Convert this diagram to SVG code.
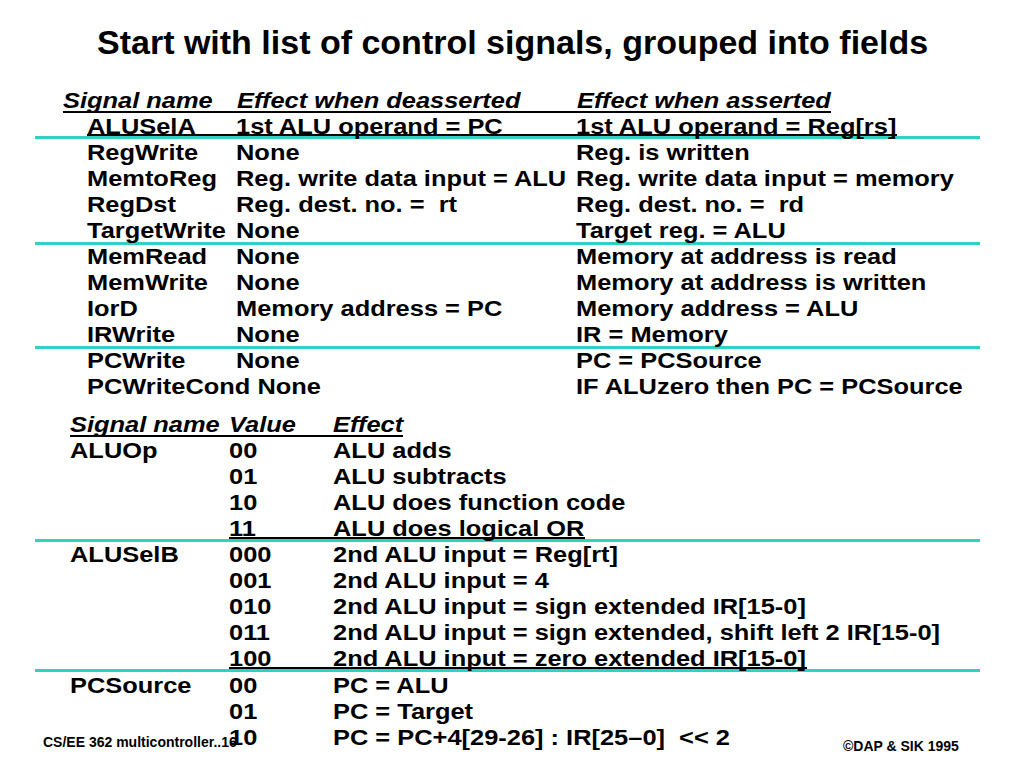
<svg xmlns="http://www.w3.org/2000/svg" width="1024" height="768" viewBox="0 0 1024 768">
<style>
text{font-family:"Liberation Sans",Arial,Helvetica,sans-serif;font-weight:bold;fill:#000}
.t{font-size:34px}
.b{font-size:22.5px}
.h{font-size:22.5px;font-style:italic}
.f{font-size:14px}
.teal{stroke:#2fd2c0;stroke-width:3}
.ul{stroke:#000;stroke-width:2}
</style>
<rect width="1024" height="768" fill="#fff"/>
<text id="title" class="t" x="97" y="54">Start with list of control signals, grouped into fields</text>

<g id="rules">
<line class="ul" x1="63" y1="112" x2="831" y2="112"/>
<line class="ul" x1="87" y1="135" x2="897" y2="135"/>
<line class="teal" x1="35" y1="137.5" x2="980" y2="137.5"/>
<line class="teal" x1="35" y1="243.5" x2="980" y2="243.5"/>
<line class="teal" x1="35" y1="347.5" x2="980" y2="347.5"/>
<line class="ul" x1="70" y1="436" x2="403" y2="436"/>
<line class="ul" x1="229" y1="538" x2="585" y2="538"/>
<line class="teal" x1="35" y1="540.5" x2="980" y2="540.5"/>
<line class="ul" x1="229" y1="668" x2="807" y2="668"/>
<line class="teal" x1="35" y1="670.5" x2="980" y2="670.5"/>
</g>

<g id="table1">
<g id="t1-header">
<text class="h" transform="translate(63 108) scale(1.13 1)">Signal name</text>
<text class="h" transform="translate(237 108) scale(1.13 1)">Effect when deasserted</text>
<text class="h" transform="translate(577 108) scale(1.13 1)">Effect when asserted</text>
</g>
<g id="r-ALUSelA">
<text class="b" transform="translate(87 134) scale(1.13 1)">ALUSelA</text>
<text class="b" transform="translate(236 134) scale(1.13 1)">1st ALU operand = PC</text>
<text class="b" transform="translate(576 134) scale(1.13 1)">1st ALU operand = Reg[rs]</text>
</g>
<g id="r-RegWrite">
<text class="b" transform="translate(87 160) scale(1.13 1)">RegWrite</text>
<text class="b" transform="translate(236 160) scale(1.13 1)">None</text>
<text class="b" transform="translate(576 160) scale(1.13 1)">Reg. is written</text>
</g>
<g id="r-MemtoReg">
<text class="b" transform="translate(87 186) scale(1.13 1)">MemtoReg</text>
<text class="b" transform="translate(236 186) scale(1.13 1)">Reg. write data input = ALU</text>
<text class="b" transform="translate(576 186) scale(1.13 1)">Reg. write data input = memory</text>
</g>
<g id="r-RegDst">
<text class="b" transform="translate(87 212) scale(1.13 1)">RegDst</text>
<text class="b" transform="translate(236 212) scale(1.13 1)" xml:space="preserve">Reg. dest. no. =  rt</text>
<text class="b" transform="translate(576 212) scale(1.13 1)" xml:space="preserve">Reg. dest. no. =  rd</text>
</g>
<g id="r-TargetWrite">
<text class="b" transform="translate(87 238) scale(1.13 1)">TargetWrite</text>
<text class="b" transform="translate(236 238) scale(1.13 1)">None</text>
<text class="b" transform="translate(576 238) scale(1.13 1)">Target reg. = ALU</text>
</g>
<g id="r-MemRead">
<text class="b" transform="translate(87 264) scale(1.13 1)">MemRead</text>
<text class="b" transform="translate(236 264) scale(1.13 1)">None</text>
<text class="b" transform="translate(576 264) scale(1.13 1)">Memory at address is read</text>
</g>
<g id="r-MemWrite">
<text class="b" transform="translate(87 290) scale(1.13 1)">MemWrite</text>
<text class="b" transform="translate(236 290) scale(1.13 1)">None</text>
<text class="b" transform="translate(576 290) scale(1.13 1)">Memory at address is written</text>
</g>
<g id="r-IorD">
<text class="b" transform="translate(87 316) scale(1.13 1)">IorD</text>
<text class="b" transform="translate(236 316) scale(1.13 1)">Memory address = PC</text>
<text class="b" transform="translate(576 316) scale(1.13 1)">Memory address = ALU</text>
</g>
<g id="r-IRWrite">
<text class="b" transform="translate(87 342) scale(1.13 1)">IRWrite</text>
<text class="b" transform="translate(236 342) scale(1.13 1)">None</text>
<text class="b" transform="translate(576 342) scale(1.13 1)">IR = Memory</text>
</g>
<g id="r-PCWrite">
<text class="b" transform="translate(87 368) scale(1.13 1)">PCWrite</text>
<text class="b" transform="translate(236 368) scale(1.13 1)">None</text>
<text class="b" transform="translate(576 368) scale(1.13 1)">PC = PCSource</text>
</g>
<g id="r-PCWriteCond">
<text class="b" transform="translate(87 394) scale(1.13 1)">PCWriteCond None</text>
<text class="b" transform="translate(576 394) scale(1.13 1)">IF ALUzero then PC = PCSource</text>
</g>
</g>

<g id="table2">
<g id="t2-header">
<text class="h" transform="translate(70 432) scale(1.13 1)">Signal name</text>
<text class="h" transform="translate(229 432) scale(1.13 1)">Value</text>
<text class="h" transform="translate(333 432) scale(1.13 1)">Effect</text>
</g>
<g id="r-ALUOp">
<text class="b" transform="translate(70 458) scale(1.13 1)">ALUOp</text>
<text class="b" transform="translate(229 458) scale(1.13 1)">00</text>
<text class="b" transform="translate(333 458) scale(1.13 1)">ALU adds</text>
<text class="b" transform="translate(229 484) scale(1.13 1)">01</text>
<text class="b" transform="translate(333 484) scale(1.13 1)">ALU subtracts</text>
<text class="b" transform="translate(229 510) scale(1.13 1)">10</text>
<text class="b" transform="translate(333 510) scale(1.13 1)">ALU does function code</text>
<text class="b" transform="translate(229 536) scale(1.13 1)">11</text>
<text class="b" transform="translate(333 536) scale(1.13 1)">ALU does logical OR</text>
</g>
<g id="r-ALUSelB">
<text class="b" transform="translate(70 562) scale(1.13 1)">ALUSelB</text>
<text class="b" transform="translate(229 562) scale(1.13 1)">000</text>
<text class="b" transform="translate(333 562) scale(1.13 1)">2nd ALU input = Reg[rt]</text>
<text class="b" transform="translate(229 588) scale(1.13 1)">001</text>
<text class="b" transform="translate(333 588) scale(1.13 1)">2nd ALU input = 4</text>
<text class="b" transform="translate(229 614) scale(1.13 1)">010</text>
<text class="b" transform="translate(333 614) scale(1.13 1)">2nd ALU input = sign extended IR[15-0]</text>
<text class="b" transform="translate(229 640) scale(1.13 1)">011</text>
<text class="b" transform="translate(333 640) scale(1.13 1)">2nd ALU input = sign extended, shift left 2 IR[15-0]</text>
<text class="b" transform="translate(229 666) scale(1.13 1)">100</text>
<text class="b" transform="translate(333 666) scale(1.13 1)">2nd ALU input = zero extended IR[15-0]</text>
</g>
<g id="r-PCSource">
<text class="b" transform="translate(70 693) scale(1.13 1)">PCSource</text>
<text class="b" transform="translate(229 693) scale(1.13 1)">00</text>
<text class="b" transform="translate(333 693) scale(1.13 1)">PC = ALU</text>
<text class="b" transform="translate(229 719) scale(1.13 1)">01</text>
<text class="b" transform="translate(333 719) scale(1.13 1)">PC = Target</text>
<text class="b" transform="translate(229 745) scale(1.13 1)">10</text>
<text class="b" transform="translate(333 745) scale(1.13 1)" xml:space="preserve">PC = PC+4[29-26] : IR[25–0]  &lt;&lt; 2</text>
</g>
</g>

<g id="footer">
<text class="f" x="43" y="747">CS/EE 362 multicontroller..16</text>
<text class="f" x="843" y="751">©DAP &amp; SIK 1995</text>
</g>
</svg>
